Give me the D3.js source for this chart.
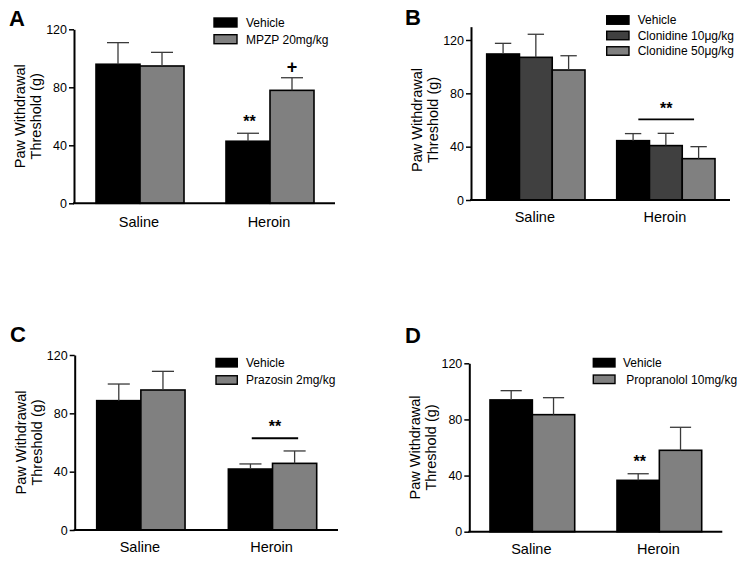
<!DOCTYPE html>
<html>
<head>
<meta charset="utf-8">
<script src="https://cdn.jsdelivr.net/npm/d3@7"></script>
<style>
  html, body { margin: 0; padding: 0; background: #fff; }
  svg { display: block; font-family: "Liberation Sans", Arial, sans-serif; }
</style>
</head>
<body>
<svg id="chart" width="741" height="562"></svg>
<script>
// ---------------- DATA ----------------
const categories = ["Saline", "Heroin"];
const yTicks = [0, 40, 80, 120];

// Panel A
const seriesA = ["Vehicle", "MPZP 20mg/kg"];
const colorsA = ["#000000", "#808080"];
const meansA = [[95.9, 94.7], [42.8, 77.9]];
const semsA = [[14.9, 9.4], [5.5, 8.7]];

// Panel B
const seriesB = ["Vehicle", "Clonidine 10\u03bcg/kg", "Clonidine 50\u03bcg/kg"];
const colorsB = ["#000000", "#404040", "#808080"];
const meansB = [[109.5, 107.0, 97.5], [44.5, 40.8, 31.0]];
const semsB = [[8.0, 17.3, 10.7], [5.3, 9.2, 9.0]];

// Panel C
const seriesC = ["Vehicle", "Prazosin 2mg/kg"];
const colorsC = ["#000000", "#808080"];
const meansC = [[88.7, 96.0], [41.8, 45.7]];
const semsC = [[11.4, 12.8], [3.5, 8.5]];

// Panel D
const seriesD = ["Vehicle", " Propranolol 10mg/kg"];
const colorsD = ["#000000", "#808080"];
const meansD = [[93.9, 83.4], [36.6, 58.0]];
const semsD = [[6.6, 12.1], [4.7, 16.4]];

// annotations
const annotA = [{cat: "Heroin", s: 0, text: "**"}, {cat: "Heroin", s: 1, text: "+"}];
const bracketB = [{cat: "Heroin", value: 60.5, text: "**"}];
const bracketC = [{cat: "Heroin", value: 62.9, text: "**"}];
const annotD = [{cat: "Heroin", s: 0, text: "**"}];

// ---------------- LAYOUT ----------------
const panels = [
  {letter: "A", letterX: 9, letterY: 26, series: seriesA, colors: colorsA, means: meansA, sems: semsA,
   axisX: 74, y0: 203.3, y120: 29.3, domainMax: 120, xEnd: 335, barRange: [96, 314], padInner: 0.323,
   catY: 226.5, legX: 214, legW: 23, legH: 9, legY: [22.5, 39.2], legTextX: 246,
   annots: annotA, brackets: [], bracketFrac: [0, 0]},
  {letter: "B", letterX: 405, letterY: 25, series: seriesB, colors: colorsB, means: meansB, sems: semsB,
   axisX: 471, y0: 200, y120: 40, domainMax: 130, xEnd: 730, barRange: [486.7, 715], padInner: 0.244,
   catY: 221.5, legX: 606.7, legW: 22.3, legH: 8.5, legY: [20, 35.5, 51], legTextX: 637.7,
   annots: [], brackets: bracketB, bracketFrac: [0.22, 0.787]},
  {letter: "C", letterX: 10, letterY: 341.7, series: seriesC, colors: colorsC, means: meansC, sems: semsC,
   axisX: 74.7, y0: 530, y120: 355, domainMax: 120, xEnd: 338, barRange: [96.7, 316.7], padInner: 0.329,
   catY: 552, legX: 216, legW: 21.3, legH: 8.5, legY: [362.7, 380], legTextX: 246,
   annots: [], brackets: bracketC, bracketFrac: [0.265, 0.79]},
  {letter: "D", letterX: 405, letterY: 343.3, series: seriesD, colors: colorsD, means: meansD, sems: semsD,
   axisX: 469.3, y0: 531.7, y120: 363.3, domainMax: 120, xEnd: 722.3, barRange: [490, 701.7], padInner: 0.333,
   catY: 553.5, legX: 593.3, legW: 21.7, legH: 8.5, legY: [362.7, 379.3], legTextX: 623,
   annots: annotD, brackets: [], bracketFrac: [0, 0]}
];

const svg = d3.select("#chart");

function drawPanel(p) {
  const g = svg.append("g");
  const pxPerUnit = (p.y0 - p.y120) / 120;
  const y = d3.scaleLinear().domain([0, p.domainMax]).range([p.y0, p.y0 - pxPerUnit * p.domainMax]);
  const xg = d3.scaleBand().domain(categories).range(p.barRange).paddingInner(p.padInner).paddingOuter(0);
  const xs = d3.scaleBand().domain(d3.range(p.series.length)).range([0, xg.bandwidth()]);

  g.append("text").attr("x", p.letterX).attr("y", p.letterY)
    .attr("font-size", 22).attr("font-weight", "bold").attr("fill", "#000").text(p.letter);

  const flat = [];
  categories.forEach((c, ci) => p.series.forEach((s, si) => {
    flat.push({cat: c, s: si, mean: p.means[ci][si], sem: p.sems[ci][si]});
  }));

  g.selectAll("rect.bar").data(flat).join("rect").attr("class", "bar")
    .attr("x", d => xg(d.cat) + xs(d.s))
    .attr("y", d => y(d.mean))
    .attr("width", xs.bandwidth())
    .attr("height", d => y(0) - y(d.mean))
    .attr("fill", d => p.colors[d.s])
    .attr("stroke", "#000").attr("stroke-width", 1.6);

  const eb = g.selectAll("g.err").data(flat).join("g").attr("class", "err")
    .attr("stroke", "#3a3a3a").attr("stroke-width", 1.3);
  eb.append("line")
    .attr("x1", d => xg(d.cat) + xs(d.s) + xs.bandwidth() / 2)
    .attr("x2", d => xg(d.cat) + xs(d.s) + xs.bandwidth() / 2)
    .attr("y1", d => y(d.mean)).attr("y2", d => y(d.mean + d.sem));
  eb.append("line")
    .attr("x1", d => xg(d.cat) + xs(d.s) + xs.bandwidth() / 4)
    .attr("x2", d => xg(d.cat) + xs(d.s) + xs.bandwidth() * 3 / 4)
    .attr("y1", d => y(d.mean + d.sem)).attr("y2", d => y(d.mean + d.sem));

  const yAxis = d3.axisLeft(y).tickValues(yTicks).tickSize(5).tickSizeOuter(0).tickPadding(2);
  const ya = g.append("g").attr("transform", `translate(${p.axisX},0)`).call(yAxis);
  ya.attr("font-family", null).attr("font-size", null);
  ya.select(".domain").attr("stroke", "#000").attr("stroke-width", 2);
  ya.selectAll(".tick line").attr("stroke", "#000").attr("stroke-width", 1.5);
  ya.selectAll(".tick text").attr("font-size", 12.5).attr("fill", "#000");

  g.append("line").attr("x1", p.axisX - 1).attr("x2", p.xEnd)
    .attr("y1", y(0)).attr("y2", y(0)).attr("stroke", "#000").attr("stroke-width", 2);

  g.selectAll("text.cat").data(categories).join("text").attr("class", "cat")
    .attr("x", d => xg(d) + xg.bandwidth() / 2 - 1)
    .attr("y", p.catY).attr("text-anchor", "middle").attr("font-size", 14.5).attr("fill", "#000")
    .text(d => d);

  // y title
  const yc = (y(0) + y(120)) / 2;
  g.append("text").attr("transform", `translate(${p.axisX - 49},${yc}) rotate(-90)`)
    .attr("text-anchor", "middle").attr("font-size", 14.5).attr("fill", "#000").text("Paw Withdrawal");
  g.append("text").attr("transform", `translate(${p.axisX - 33},${yc}) rotate(-90)`)
    .attr("text-anchor", "middle").attr("font-size", 14.5).attr("fill", "#000").text("Threshold (g)");

  const lg = g.selectAll("g.leg").data(p.series).join("g").attr("class", "leg");
  lg.append("rect").attr("x", p.legX).attr("y", (d, i) => p.legY[i] - p.legH / 2)
    .attr("width", p.legW).attr("height", p.legH)
    .attr("fill", (d, i) => p.colors[i]).attr("stroke", "#000").attr("stroke-width", 1.4);
  lg.append("text").attr("x", p.legTextX).attr("y", (d, i) => p.legY[i]).attr("dy", "0.36em")
    .attr("font-size", 12).attr("fill", "#000").style("white-space", "pre").text(d => d);

  p.annots.forEach(a => {
    const ci = categories.indexOf(a.cat);
    const top = p.means[ci][a.s] + p.sems[ci][a.s];
    const cx = xg(a.cat) + xs(a.s) + xs.bandwidth() / 2;
    const isPlus = a.text === "+";
    g.append("text").attr("x", cx + (isPlus ? 0 : 1.5))
      .attr("y", y(top) - (isPlus ? 4.7 : 6.5))
      .attr("text-anchor", "middle").attr("font-weight", "bold")
      .attr("font-size", isPlus ? 18 : 16).attr("fill", "#000").text(a.text);
  });

  p.brackets.forEach(b => {
    const x0 = xg(b.cat) + xg.bandwidth() * p.bracketFrac[0];
    const x1 = xg(b.cat) + xg.bandwidth() * p.bracketFrac[1];
    g.append("line").attr("x1", x0).attr("x2", x1).attr("y1", y(b.value)).attr("y2", y(b.value))
      .attr("stroke", "#000").attr("stroke-width", 1.8);
    g.append("text").attr("x", (x0 + x1) / 2).attr("y", y(b.value) - 5.8)
      .attr("text-anchor", "middle").attr("font-weight", "bold").attr("font-size", 16)
      .attr("fill", "#000").text(b.text);
  });
}

panels.forEach(drawPanel);
</script>
</body>
</html>
